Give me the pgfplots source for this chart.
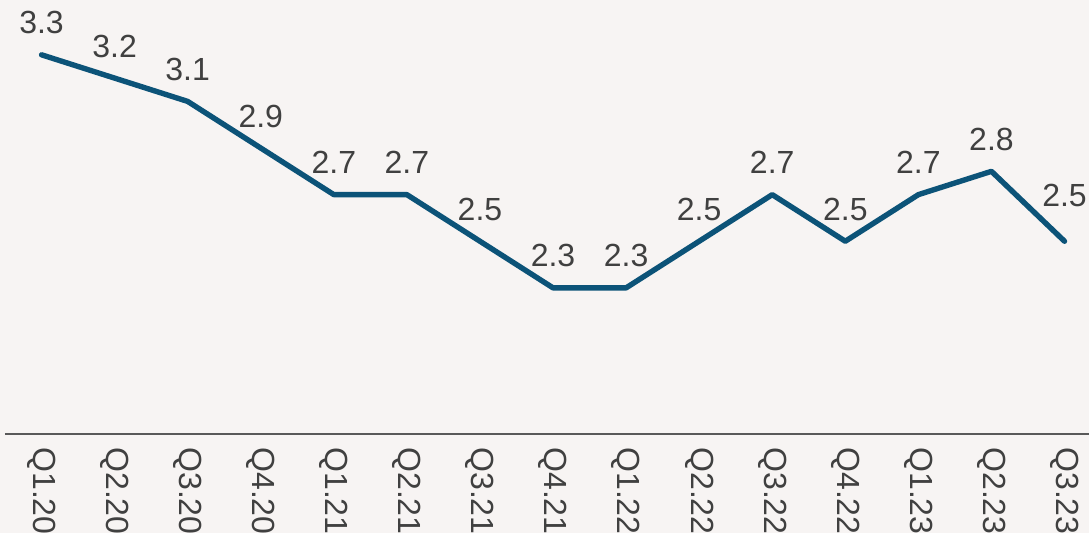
\documentclass[border=0pt]{standalone}
\usepackage{pgfplots}
\pgfplotsset{compat=1.18}
\usepackage{fontspec}
\setmainfont{Liberation Sans}
\definecolor{bg}{RGB}{247,244,243}
\definecolor{lineblue}{RGB}{12,83,120}
\definecolor{txt}{RGB}{64,64,64}
\definecolor{axl}{RGB}{89,89,89}
\begin{document}
\begin{tikzpicture}
\begin{scope}
\clip (-2.5pt,-49.5pt) rectangle (542pt,217pt);
\fill[bg] (-2.5pt,-49.5pt) rectangle (542pt,217pt);
\begin{axis}[
  name=ax,
  scale only axis, width=542pt, height=212.9pt,
  xmin=-0.5, xmax=14.335, ymin=1.673, ymax=3.5,
  axis x line*=bottom, axis y line=none,
  x axis line style={draw=axl, line width=0.7pt, -},
  xtick={0,...,14},
  xticklabels={Q1.20,Q2.20,Q3.20,Q4.20,Q1.21,Q2.21,Q3.21,Q4.21,Q1.22,Q2.22,Q3.22,Q4.22,Q1.23,Q2.23,Q3.23},
  major tick length=0pt,
  xticklabel shift=6.5pt,
  xticklabel style={rotate=-90, anchor=west, inner sep=0pt, font=\fontsize{16}{19}\selectfont, text=txt},
  clip=false,
  nodes near coords,
  point meta=y,
  nodes near coords style={anchor=south, inner sep=0pt, yshift=9pt, font=\fontsize{16}{19}\selectfont, text=txt,
    /pgf/number format/.cd, fixed, precision=1, fixed zerofill, assume math mode=true},
  coordinate style/.condition={x>13.5}{yshift=7pt},
]
\addplot[lineblue, line width=2.7pt, line join=round, line cap=round, mark=none] coordinates {
(0,3.3) (1,3.2) (2,3.1) (3,2.9) (4,2.7) (5,2.7) (6,2.5) (7,2.3) (8,2.3) (9,2.5) (10,2.7) (11,2.5) (12,2.7) (13,2.8) (14,2.5)
};
\end{axis}
\end{scope}
\pgfresetboundingbox
\useasboundingbox (-2.5pt,-49.5pt) rectangle (542pt,217pt);
\end{tikzpicture}
\end{document}
